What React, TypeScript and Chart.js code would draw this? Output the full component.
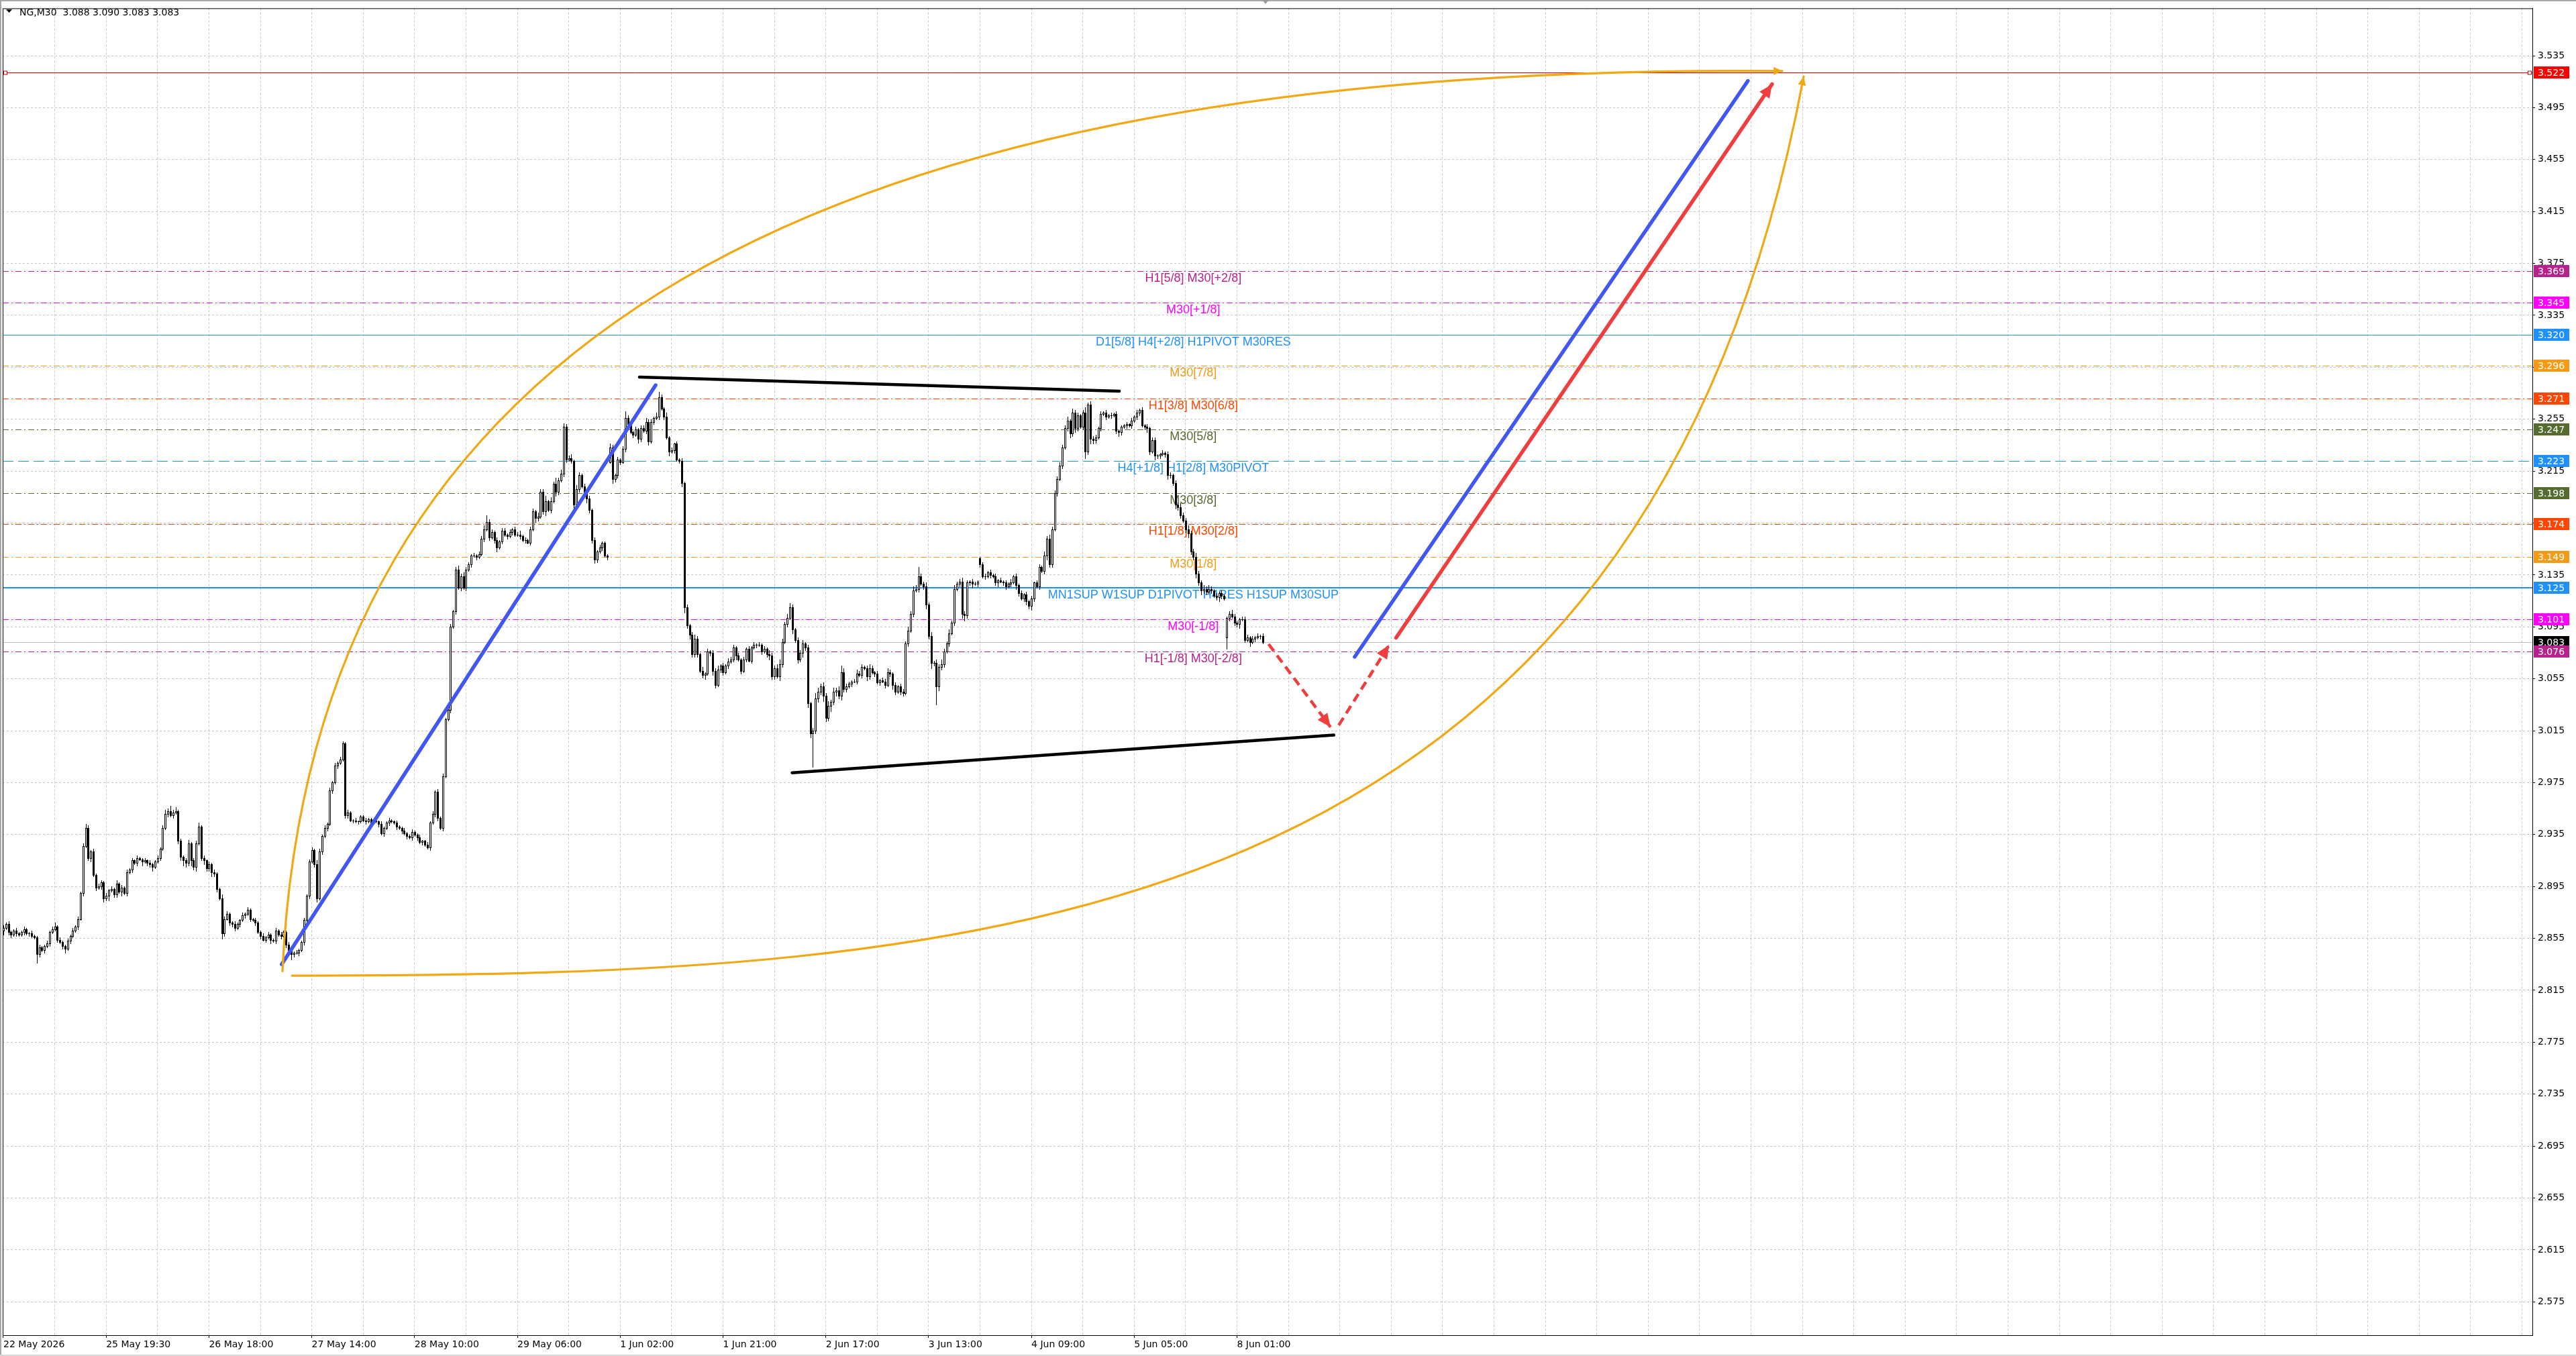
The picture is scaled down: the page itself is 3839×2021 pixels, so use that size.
import React, { useEffect, useRef } from "react";
import { Chart, registerables } from "chart.js";

Chart.register(...registerables);

const WIDTH = 3839;
const HEIGHT = 2021;

const symbolName = "NG,M30";
const headerOHLC = ["3.088", "3.090", "3.083", "3.083"];

// M30 closes (thousandths)
const closes = [
  2863,2866,2860,2858,2861,2859,2858,2860,2862,2859,
  2859,2857,2856,2843,2848,2846,2849,2851,2860,2862,
  2864,2854,2852,2849,2847,2853,2857,2861,2864,2870,
  2890,2926,2940,2917,2922,2904,2894,2895,2898,2886,
  2888,2892,2893,2889,2897,2891,2894,2890,2906,2908,
  2915,2913,2917,2916,2914,2915,2913,2912,2910,2914,
  2917,2924,2940,2951,2953,2950,2952,2953,2930,2918,
  2915,2913,2928,2915,2910,2928,2941,2917,2915,2909,
  2912,2906,2905,2893,2886,2859,2870,2874,2867,2866,
  2863,2866,2869,2873,2874,2877,2870,2869,2867,2860,
  2857,2854,2856,2858,2854,2853,2861,2858,2857,2860,
  2850,2846,2843,2844,2844,2846,2852,2869,2888,2914,
  2923,2912,2886,2922,2934,2940,2943,2969,2975,2988,
  2990,2993,3005,2950,2952,2946,2946,2945,2945,2949,
  2946,2945,2947,2944,2946,2945,2943,2936,2940,2944,
  2946,2945,2944,2941,2940,2938,2936,2934,2933,2937,
  2935,2933,2929,2930,2927,2925,2944,2951,2968,2948,
  2940,2980,3024,3031,3095,3107,3139,3125,3134,3125,
  3139,3143,3150,3150,3149,3151,3163,3170,3176,3164,
  3168,3162,3156,3161,3169,3166,3165,3168,3170,3166,
  3166,3165,3162,3162,3160,3170,3184,3179,3180,3199,
  3184,3192,3185,3192,3205,3199,3208,3213,3249,3224,
  3225,3223,3189,3201,3212,3203,3199,3194,3185,3162,
  3147,3153,3156,3160,3150,3149,3233,3209,3212,3224,
  3222,3232,3256,3251,3245,3243,3247,3240,3248,3246,
  3253,3238,3253,3256,3257,3272,3263,3257,3241,3230,
  3231,3236,3224,3223,3206,3110,3096,3089,3074,3086,
  3074,3061,3058,3059,3076,3075,3061,3050,3062,3065,
  3060,3065,3068,3070,3079,3073,3070,3061,3070,3078,
  3069,3079,3081,3081,3081,3076,3078,3074,3073,3057,
  3063,3057,3066,3083,3097,3102,3110,3093,3085,3070,
  3075,3082,3079,3036,3013,3015,3040,3045,3049,3042,
  3025,3034,3037,3045,3046,3042,3060,3047,3049,3051,
  3053,3053,3059,3058,3064,3063,3057,3063,3060,3059,
  3052,3054,3053,3050,3060,3059,3050,3045,3049,3045,
  3044,3082,3092,3105,3123,3124,3134,3128,3126,3112,
  3088,3067,3067,3049,3064,3066,3076,3082,3090,3098,
  3124,3128,3130,3105,3104,3129,3130,3128,3128,3130,
  3143,3134,3134,3137,3135,3134,3129,3131,3130,3129,
  3126,3128,3129,3134,3127,3121,3117,3120,3115,3111,
  3117,3129,3126,3141,3138,3150,3163,3143,3170,3198,
  3209,3219,3233,3248,3254,3244,3260,3248,3258,3249,
  3260,3230,3266,3240,3239,3241,3248,3259,3260,3257,
  3258,3258,3259,3246,3245,3249,3250,3251,3250,3254,
  3257,3260,3262,3250,3249,3248,3230,3239,3227,3227,
  3228,3229,3228,3212,3212,3206,3189,3187,3181,3177,
  3170,3167,3153,3149,3136,3129,3123,3124,3122,3124,
  3123,3119,3118,3121,3119,3117,3102,3105,3103,3098,
  3097,3101,3101,3085,3087,3083,3086,3087,3088,3088,
  3083,
];

// wick lengths above / below the body (thousandths)
const upperWicks = [
  2,1,2,1,1,2,1,1,2,1, 1,2,1,1,2,1,1,2,1,2, 3,1,2,1,1,2,1,2,1,2, 1,2,3,2,1,2,1,2,2,1,
  2,1,2,1,3,1,2,1,2,1, 2,1,2,1,1,2,1,2,1,1, 2,1,2,3,2,4,2,3,1,2, 1,2,3,1,2,2,3,1,2,1,
  2,1,2,1,1,3,2,2,1,1, 2,1,1,2,1,2,1,1,2,1, 1,2,1,2,1,1,2,1,2,1, 1,2,1,1,2,1,1,2,1,2,
  2,1,3,2,1,2,1,2,1,2, 1,2,2,1,2,1,1,2,1,1, 1,2,1,1,2,1,1,2,1,1, 2,1,1,2,1,1,2,1,1,2,
  1,1,2,1,1,2,1,2,1,2, 1,2,1,2,2,1,2,3,2,3, 2,2,1,2,1,2,2,3,5,2, 2,1,2,1,2,2,1,2,1,2,
  2,3,1,2,1,2,2,1,3,2, 2,4,1,3,2,5,2,3,3,2, 2,3,1,3,2,1,2,1,2,1, 2,1,2,1,1,1,3,2,1,2,
  1,2,5,2,3,1,2,1,2,2, 3,2,2,1,3,4,2,1,3,1, 2,1,2,1,2,1,2,1,2,3, 2,1,3,1,2,1,2,2,3,1,
  2,1,3,2,2,1,2,1,2,1, 2,1,2,1,2,1,2,1,3,2, 2,3,4,3,2,3,3,2,1,2, 2,3,1,2,1,2,4,3,2,3,
  2,4,2,3,2,3,5,3,2,2, 1,2,3,2,2,1,2,3,2,1, 2,1,2,2,3,2,1,2,1,2, 2,2,3,2,3,3,7,2,2,3,
  2,3,2,3,2,4,2,2,3,2, 3,2,2,3,2,2,1,2,2,1, 1,2,2,1,2,1,2,1,2,1, 2,1,3,1,2,1,2,1,2,1,
  2,1,2,2,1,3,2,3,2,2, 2,3,2,2,3,1,3,2,2,1, 2,4,2,3,2,2,1,2,1,2, 1,2,1,2,1,1,1,2,1,2,
  1,2,1,2,1,2,1,2,2,1, 1,2,1,2,2,1,2,2,3,2, 2,3,2,2,3,2,2,3,2,3, 2,1,2,1,2,1,1,2,3,2,
  2,1,2,2,2,1,2,1,2,1, 2,
];
const lowerWicks = [
  3,1,2,2,1,2,1,1,2,1, 2,1,1,7,2,1,2,1,2,1, 1,2,1,2,3,1,2,1,1,2, 1,2,1,2,3,1,2,1,2,3,
  2,4,1,2,2,1,3,1,2,1, 2,1,2,1,3,1,2,2,3,1, 1,2,1,1,2,1,2,1,2,3, 4,3,2,4,2,3,1,2,3,2,
  2,3,2,2,1,4,2,1,2,2, 2,1,2,1,2,1,2,1,2,1, 2,1,2,1,3,1,2,1,2,1, 2,3,4,2,1,2,1,2,1,2,
  1,2,3,1,2,1,2,1,2,1, 2,1,1,2,2,1,2,1,2,1, 1,2,1,2,1,1,2,1,2,1, 2,1,1,2,1,2,1,2,1,2,
  1,2,1,2,1,1,2,1,2,2, 1,2,1,1,2,1,2,1,2,1, 2,1,2,1,2,1,1,2,1,2, 1,2,3,1,2,1,2,1,2,1,
  1,2,1,2,1,2,1,3,2,1, 2,3,1,2,1,3,2,1,2,2, 1,2,3,2,2,1,2,3,2,2, 3,2,1,2,1,2,1,3,2,2,
  2,1,2,2,1,2,1,3,2,1, 2,3,1,2,1,2,1,2,1,3, 1,2,1,2,3,4,2,3,2,2, 2,1,2,3,1,2,3,2,1,2,
  2,1,2,1,2,3,1,2,1,2, 1,2,1,2,1,2,1,2,3,2, 2,1,3,2,1,2,1,3,2,3, 2,3,2,3,3,26,2,3,2,4,
  3,2,4,2,3,2,3,2,2,1, 2,1,2,1,2,1,3,2,1,2, 1,2,1,2,1,2,3,2,1,2, 2,1,2,1,2,1,2,1,2,3,
  2,4,2,14,3,2,2,1,2,1, 2,1,2,3,4,2,2,3,1,2, 2,1,2,1,2,1,2,3,1,2, 2,1,2,1,3,2,1,2,3,2,
  3,2,1,2,1,2,3,2,2,1, 2,1,2,1,2,3,2,3,2,1, 2,5,2,4,3,2,1,2,1,2, 1,2,1,2,3,2,1,2,1,2,
  1,2,2,1,2,3,2,1,3,2, 2,1,2,3,2,2,3,2,2,1, 2,3,2,2,3,2,3,2,2,1, 2,1,2,3,2,1,9,2,1,2,
  2,3,1,2,1,3,1,2,1,2, 1,
];
const firstOpen = 2861;
const gapBars = [236, 380, 476];
const gapOpens = [3222, 3148, 3087];

// time axis
const timeTickBars = [0, 40, 80, 120, 160, 200, 240, 280, 320, 360, 400, 440, 480];
const timeTickLabels = [
  "22 May 2026", "25 May 19:30", "26 May 18:00", "27 May 14:00", "28 May 10:00",
  "29 May 06:00", "1 Jun 02:00", "1 Jun 21:00", "2 Jun 17:00", "3 Jun 13:00",
  "4 Jun 09:00", "5 Jun 05:00", "8 Jun 01:00",
];
const priceTicks = [
  2.575, 2.615, 2.655, 2.695, 2.735, 2.775, 2.815, 2.855, 2.895, 2.935, 2.975, 3.015,
  3.055, 3.095, 3.135, 3.175, 3.215, 3.255, 3.295, 3.335, 3.375, 3.415, 3.455, 3.495, 3.535,
];

// Murrey / pivot levels
const levelPrices = [3.369, 3.345, 3.32, 3.296, 3.271, 3.247, 3.223, 3.198, 3.174, 3.149, 3.125, 3.101, 3.076];
const levelTexts = [
  "H1[5/8] M30[+2/8]", "M30[+1/8]", "D1[5/8] H4[+2/8] H1PIVOT M30RES", "M30[7/8]",
  "H1[3/8] M30[6/8]", "M30[5/8]", "H4[+1/8] H1[2/8] M30PIVOT", "M30[3/8]",
  "H1[1/8] M30[2/8]", "M30[1/8]", "MN1SUP W1SUP D1PIVOT H4RES H1SUP M30SUP", "M30[-1/8]",
  "H1[-1/8] M30[-2/8]",
];
const levelColors = [
  "#b8208c", "#ff00ff", "#1e90ff", "#f59a14", "#ff4500", "#556b2f", "#1e90ff",
  "#556b2f", "#ff4500", "#f59a14", "#1e90ff", "#ff00ff", "#b8208c",
];
const levelStyles = [
  "dashdot", "dashdot", "solid", "dashdot", "dashdot", "dashdot", "dash",
  "dashdot", "dashdot", "dashdot", "solid", "dashdot", "dashdot",
];
const levelWidths = [1, 1, 1, 1, 1, 1, 1, 1, 1, 1, 2, 1, 1];
const targetPrice = 3.522;
const currentPrice = 3.083;
const labelBar = 463;

// hand drawn objects (bar index, price)
const blueRally = [[108.3, 2.835], [253.8, 3.2812]];
const topTrend = [[247.5, 3.2874], [434.2, 3.2766]];
const bottomTrend = [[306.9, 2.9826], [517.7, 3.0116]];
const redDashDown = [[492.3, 3.0817], [516.4, 3.0178]];
const redDashUp = [[519.6, 3.0192], [539.2, 3.081]];
const blueProjection = [[525.8, 3.0719], [678.8, 3.5156]];
const redProjection = [[541.9, 3.0866], [688.2, 3.5131]];
const upperArc = [[108.6, 2.8298], [120.1, 3.3215], [318.3, 3.5294], [692.2, 3.5232]];
const lowerArc = [[112.3, 2.8263], [382.2, 2.8263], [637.9, 2.8553], [700.5, 3.519]];

const X_MIN = -0.261;
const X_MAX = 984.04;
const Y_MIN = 2.5493;
const Y_MAX = 3.5715;

const opens = closes.map((c, i) => {
  const g = gapBars.indexOf(i);
  if (g >= 0) return gapOpens[g];
  return i === 0 ? firstOpen : closes[i - 1];
});
const highs = closes.map((c, i) => Math.max(opens[i], c) + (upperWicks[i] ?? 1));
const lows = closes.map((c, i) => Math.min(opens[i], c) - (lowerWicks[i] ?? 1));

const BLUE = "#4257f2";
const RED = "#ee3e3e";
const ORANGE = "#f0a814";
const AXIS_FONT = "14px 'DejaVu Sans'";

const dashFor = (s: string) => (s === "dashdot" ? [9, 4, 2, 4] : s === "dash" ? [16, 7] : []);

function arrowHead(ctx: CanvasRenderingContext2D, fx: number, fy: number, tx: number, ty: number, len: number, half: number, color: string) {
  const a = Math.atan2(ty - fy, tx - fx);
  const bx = tx - Math.cos(a) * len;
  const by = ty - Math.sin(a) * len;
  ctx.save();
  ctx.fillStyle = color;
  ctx.beginPath();
  ctx.moveTo(tx, ty);
  ctx.lineTo(bx + Math.sin(a) * half, by - Math.cos(a) * half);
  ctx.lineTo(bx - Math.sin(a) * half, by + Math.cos(a) * half);
  ctx.closePath();
  ctx.fill();
  ctx.restore();
}

const mt4Plugin = {
  id: "mt4",
  beforeDraw(chart: any) {
    const ctx = chart.ctx as CanvasRenderingContext2D;
    ctx.save();
    ctx.fillStyle = "#ffffff";
    ctx.fillRect(0, 0, chart.width, chart.height);
    ctx.fillStyle = "#a8a8a8";
    ctx.fillRect(0, 0, chart.width, 2);
    ctx.fillRect(0, 0, 2, chart.height);
    ctx.fillStyle = "#d8d8d8";
    ctx.fillRect(0, chart.height - 2, chart.width, 2);
    ctx.restore();
  },
  beforeDatasetsDraw(chart: any) {
    const ctx = chart.ctx as CanvasRenderingContext2D;
    const area = chart.chartArea;
    const xs = chart.scales.x;
    const ys = chart.scales.y;
    const line = (p: number, color: string, w: number, dash: number[]) => {
      const y = ys.getPixelForValue(p);
      const yy = w % 2 === 1 ? Math.round(y) + 0.5 : Math.round(y);
      ctx.save();
      ctx.strokeStyle = color;
      ctx.lineWidth = w;
      ctx.setLineDash(dash);
      ctx.beginPath();
      ctx.moveTo(area.left, yy);
      ctx.lineTo(area.right, yy);
      ctx.stroke();
      ctx.restore();
    };
    levelPrices.forEach((p, k) => line(p, levelColors[k], levelWidths[k], dashFor(levelStyles[k])));
    line(currentPrice, "#bdbdbd", 1, []);
    line(targetPrice, "#c80000", 1, []);
    const ty = Math.round(ys.getPixelForValue(targetPrice)) + 0.5;
    ctx.save();
    ctx.strokeStyle = "#c80000";
    ctx.lineWidth = 1;
    ctx.fillStyle = "#ffffff";
    [area.left + 4, area.right - 4].forEach((x) => {
      ctx.fillRect(Math.round(x) - 2, ty - 2.5, 5, 5);
      ctx.strokeRect(Math.round(x) - 2.5, ty - 2.5, 5, 5);
    });
    ctx.restore();
    ctx.save();
    ctx.font = "18px 'Liberation Sans'";
    ctx.textAlign = "center";
    ctx.textBaseline = "alphabetic";
    const lx = xs.getPixelForValue(labelBar);
    levelPrices.forEach((p, k) => {
      ctx.fillStyle = levelColors[k];
      ctx.fillText(levelTexts[k], lx, ys.getPixelForValue(p) + 16);
    });
    ctx.restore();
  },
  beforeDatasetDraw(chart: any, args: any) {
    if (args.index !== 0) return;
    const ctx = chart.ctx as CanvasRenderingContext2D;
    const area = chart.chartArea;
    const ys = chart.scales.y;
    ctx.save();
    ctx.beginPath();
    ctx.rect(area.left, area.top, area.right - area.left, area.bottom - area.top);
    ctx.clip();
    args.meta.data.forEach((el: any, i: number) => {
      const cx = Math.round(el.x);
      const yh = Math.round(ys.getPixelForValue(highs[i] / 1000));
      const yl = Math.round(ys.getPixelForValue(lows[i] / 1000));
      ctx.fillStyle = "#000000";
      ctx.fillRect(cx, yh, 1, Math.max(1, yl - yh + 1));
      const yo = Math.round(ys.getPixelForValue(opens[i] / 1000));
      const yc = Math.round(ys.getPixelForValue(closes[i] / 1000));
      const top = Math.min(yo, yc);
      const bot = Math.max(yo, yc);
      ctx.fillRect(cx - 1, top, 3, bot - top + 1);
      if (closes[i] > opens[i] && bot - top >= 2) {
        ctx.fillStyle = "#ffffff";
        ctx.fillRect(cx, top + 1, 1, bot - top - 1);
      }
    });
    ctx.restore();
    return false;
  },
  afterDatasetsDraw(chart: any) {
    const ctx = chart.ctx as CanvasRenderingContext2D;
    const area = chart.chartArea;
    const xs = chart.scales.x;
    const ys = chart.scales.y;
    const px = (pt: number[]) => [xs.getPixelForValue(pt[0]), ys.getPixelForValue(pt[1])];
    ctx.save();
    ctx.beginPath();
    ctx.rect(area.left, area.top, area.right - area.left, area.bottom - area.top);
    ctx.clip();
    [upperArc, lowerArc].forEach((arc) => {
      const [p0, p1, p2, p3] = arc.map(px);
      ctx.save();
      ctx.strokeStyle = ORANGE;
      ctx.lineWidth = 3.2;
      ctx.lineCap = "round";
      ctx.beginPath();
      ctx.moveTo(p0[0], p0[1]);
      ctx.bezierCurveTo(p1[0], p1[1], p2[0], p2[1], p3[0], p3[1]);
      ctx.stroke();
      ctx.restore();
      const t = 0.97;
      const mt = 1 - t;
      const bx = mt * mt * mt * p0[0] + 3 * mt * mt * t * p1[0] + 3 * mt * t * t * p2[0] + t * t * t * p3[0];
      const by = mt * mt * mt * p0[1] + 3 * mt * mt * t * p1[1] + 3 * mt * t * t * p2[1] + t * t * t * p3[1];
      arrowHead(ctx, bx, by, p3[0], p3[1], 13, 6, ORANGE);
    });
    [redDashDown, redDashUp, redProjection].forEach((seg) => {
      const [a, b] = seg.map(px);
      arrowHead(ctx, a[0], a[1], b[0], b[1], 20, 9, RED);
    });
    ctx.restore();
  },
  afterDraw(chart: any) {
    const ctx = chart.ctx as CanvasRenderingContext2D;
    const area = chart.chartArea;
    const xs = chart.scales.x;
    const ys = chart.scales.y;
    ctx.save();
    ctx.strokeStyle = "#000000";
    ctx.lineWidth = 1;
    ctx.beginPath();
    ctx.moveTo(area.left + 0.5, area.bottom);
    ctx.lineTo(area.left + 0.5, area.top + 0.5);
    ctx.lineTo(area.right, area.top + 0.5);
    ctx.stroke();
    const sx = Math.round(xs.getPixelForValue(closes.length));
    ctx.fillStyle = "#9a9a9a";
    ctx.beginPath();
    ctx.moveTo(sx - 5, 0);
    ctx.lineTo(sx + 5, 0);
    ctx.lineTo(sx, 6);
    ctx.closePath();
    ctx.fill();
    const boxes: [number, string][] = [[targetPrice, "#ff0000"]];
    levelPrices.forEach((p, k) => {
      if (p < currentPrice && !boxes.some((b) => b[0] === currentPrice)) boxes.push([currentPrice, "#000000"]);
      boxes.push([p, levelColors[k]]);
    });
    ctx.font = AXIS_FONT;
    ctx.textAlign = "left";
    ctx.textBaseline = "middle";
    boxes.forEach(([p, color]) => {
      const y = Math.round(ys.getPixelForValue(p));
      ctx.fillStyle = color;
      ctx.fillRect(area.right + 2, y - 9, 53, 18);
      ctx.fillStyle = "#ffffff";
      ctx.fillText(p.toFixed(3), area.right + 8, y + 1);
    });
    ctx.fillStyle = "#000000";
    ctx.beginPath();
    ctx.moveTo(9, 14);
    ctx.lineTo(18, 14);
    ctx.lineTo(13.5, 19);
    ctx.closePath();
    ctx.fill();
    ctx.font = AXIS_FONT;
    ctx.textBaseline = "alphabetic";
    ctx.fillText(`${symbolName}  ${headerOHLC.join(" ")}`, 29, 23);
    ctx.restore();
  },
};

const segData = (seg: number[][]) => seg.map(([x, y]) => ({ x, y }));

export default function App() {
  const canvasRef = useRef<HTMLCanvasElement | null>(null);

  useEffect(() => {
    const canvas = canvasRef.current;
    if (!canvas) return;
    const gridBars: number[] = [];
    for (let b = 0; b <= X_MAX; b += 20) gridBars.push(b);

    const lineDs = (seg: number[][], color: string, width: number, dash: number[] = [], cap = "round") => ({
      type: "line" as const,
      data: segData(seg),
      borderColor: color,
      borderWidth: width,
      borderDash: dash,
      borderCapStyle: cap,
      pointRadius: 0,
      fill: false,
      tension: 0,
      order: 1,
    });

    const chart = new Chart(canvas, {
      type: "bar",
      data: {
        datasets: [
          {
            type: "bar",
            label: symbolName,
            data: closes.map((c, i) => ({ x: i, y: [lows[i] / 1000, highs[i] / 1000] })) as any,
            barThickness: 3,
            grouped: false,
            backgroundColor: "#000000",
            order: 5,
          } as any,
          lineDs(blueRally, BLUE, 5.5),
          lineDs(topTrend, "#000000", 4.5),
          lineDs(bottomTrend, "#000000", 4.5),
          lineDs(blueProjection, BLUE, 5.5),
          lineDs(redProjection, RED, 5.5),
          lineDs(redDashDown, RED, 4.5, [13, 8], "butt"),
          lineDs(redDashUp, RED, 4.5, [13, 8], "butt"),
        ],
      },
      options: {
        responsive: false,
        maintainAspectRatio: false,
        devicePixelRatio: 1,
        animation: false,
        events: [],
        layout: { padding: { left: 4, top: 4, right: 0, bottom: 0 } },
        plugins: { legend: { display: false }, tooltip: { enabled: false }, title: { display: false } },
        scales: {
          x: {
            type: "linear",
            position: "bottom",
            min: X_MIN,
            max: X_MAX,
            offset: false,
            grid: {
              offset: false,
              color: "#c6c6c6",
              lineWidth: 1,
              tickLength: 4,
              tickColor: (c: any) => (c.tick && timeTickBars.includes(c.tick.value) ? "#000000" : "rgba(0,0,0,0)"),
            },
            border: { display: true, color: "#000000", width: 1, dash: [3, 3] },
            ticks: {
              autoSkip: false,
              maxRotation: 0,
              minRotation: 0,
              align: "start",
              padding: 2,
              color: "#000000",
              font: { family: "DejaVu Sans", size: 14 },
              callback: (v: any) => {
                const k = timeTickBars.indexOf(Number(v));
                return k >= 0 ? timeTickLabels[k] : "";
              },
            },
            afterBuildTicks: (s: any) => {
              s.ticks = gridBars.map((v) => ({ value: v }));
            },
            afterFit: (s: any) => {
              s.height = HEIGHT - 1990;
            },
          } as any,
          y: {
            type: "linear",
            position: "right",
            min: Y_MIN,
            max: Y_MAX,
            beginAtZero: false,
            grid: { color: "#c6c6c6", lineWidth: 1, tickLength: 4, tickColor: "#000000" },
            border: { display: true, color: "#000000", width: 1, dash: [3, 3] },
            ticks: {
              padding: 4,
              color: "#000000",
              font: { family: "DejaVu Sans", size: 14 },
              callback: (v: any) => Number(v).toFixed(3),
            },
            afterBuildTicks: (s: any) => {
              s.ticks = priceTicks.map((v) => ({ value: v }));
            },
            afterFit: (s: any) => {
              s.width = WIDTH - 3774;
            },
          } as any,
        },
      },
      plugins: [mt4Plugin as any],
    });
    return () => chart.destroy();
  }, []);

  return (
    <div style={{ position: "fixed", left: 0, top: 0, width: WIDTH, height: HEIGHT, background: "#ffffff" }}>
      <canvas ref={canvasRef} width={WIDTH} height={HEIGHT} style={{ display: "block", width: WIDTH, height: HEIGHT }} />
    </div>
  );
}
